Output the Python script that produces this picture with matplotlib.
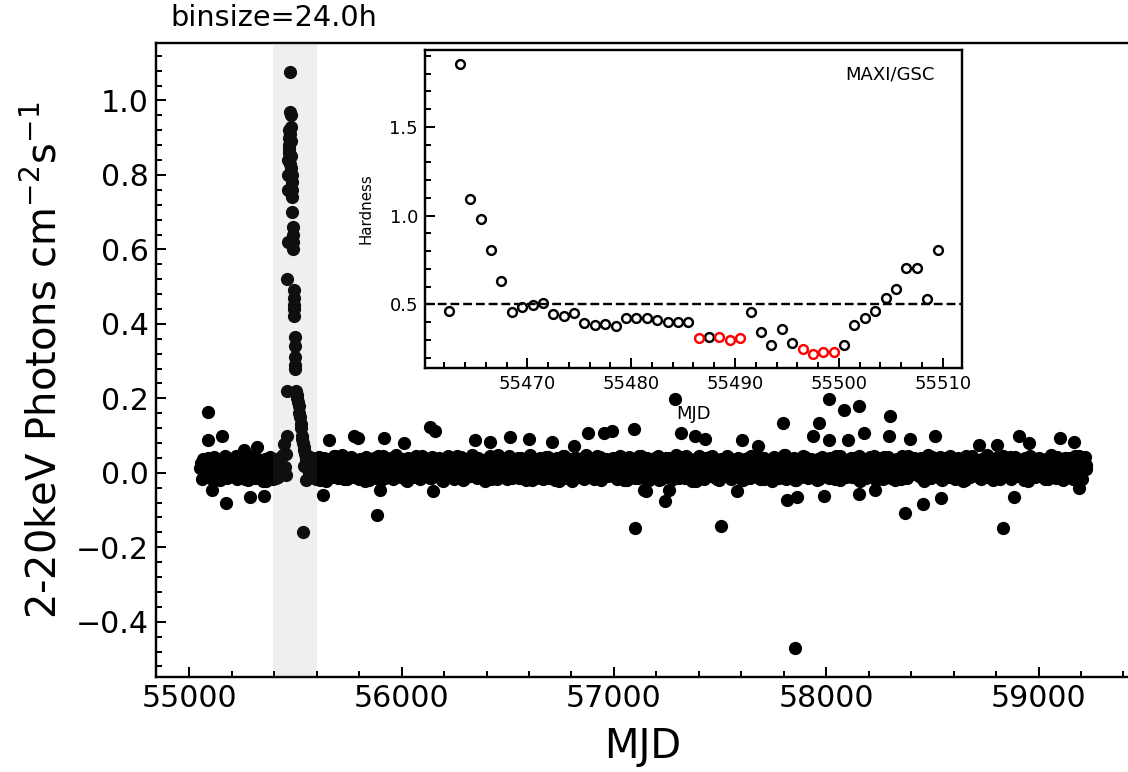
import numpy as np
import matplotlib
matplotlib.use("Agg")
import matplotlib.pyplot as plt
from matplotlib.ticker import AutoMinorLocator, MultipleLocator

plt.rcParams["font.family"] = ["DejaVu Sans"]

# ---------------- MAXI/GSC 2-20 keV daily light curve ----------------
# quiescent band: values read roughly from the dense strip, 55050 -> 59226
band_start, band_end = 55050, 59226
band_flux = np.array("""
.012 -.018 .038 .004 -.010 .030 .021 -.016 .042 .008 -.004 .034 -.020 .017 .040 .001 -.013 .027 .036 -.008
.015 .044 -.017 .006 .031 -.011 .039 .019 -.019 .002 .035 .025 -.014 .041 .010 -.006 .029 -.021 .037 .013
-.009 .043 .022 -.016 .005 .038 -.012 .028 .046 -.003 .016 -.019 .033 .009 .040 -.015 .024 .001 .036 -.010
.031 .018 -.020 .045 .007 -.008 .039 .026 -.017 .012 .042 -.005 .020 .034 -.022 .003 .037 .014 -.011 .044
.023 -.014 .030 .048 -.002 .010 -.018 .035 .017 .041 -.009 .027 .004 -.016 .038 .021 -.006 .043 .011 -.019
.033 .000 .040 -.013 .019 .026 -.020 .045 .008 .032 -.007 .014 .039 -.017 .022 .047 -.004 .029 -.012 .036
.006 -.021 .041 .024 .013 -.010 .037 .002 .030 -.018 .044 .016 -.003 .034 .020 -.015 .043 .009 .028 -.008
.039 .015 -.019 .032 .005 .046 -.012 .025 .011 -.016 .038 .022 -.001 .042 -.020 .018 .035 .003 -.009 .049
.014 .027 -.014 .040 -.005 .031 .019 -.022 .036 .007 .044 -.011 .023 .012 -.017 .039 .029 -.002 .033 .001
-.018 .045 .010 .026 -.008 .037 .016 -.015 .041 .004 .030 -.020 .021 .047 -.006 .013 .034 -.013 .024 .040
.002 -.016 .036 .019 .043 -.010 .028 .008 -.019 .039 .015 .032 -.004 .045 .011 -.014 .026 .037 -.021 .020
.041 .005 -.012 .033 .023 -.018 .048 .013 -.007 .029 .038 -.015 .017 .003 .042 -.020 .031 .010 .036 -.009
.025 -.003 .040 .012 -.017 .034 .046 -.011 .021 .006 -.019 .043 .028 .000 .037 -.014 .018 .044 -.006 .030
-.013 .022 .039 -.020 .009 .035 .017 -.008 .045 .026 -.016 .031 .004 .041 -.010 .014 .038 -.018 .027 .048
.011 -.005 .033 .042 -.015 .020 .007 .037 -.021 .029 .016 -.009 .044 .003 .024 -.017 .040 .013 -.002 .035
.046 -.012 .019 .030 -.019 .038 .001 .025 -.007 .043 .014 -.016 .034 .022 -.011 .040 .008 .028 -.020 .036
.017 .041 -.014 .006 .032 -.004 .044 .020 -.018 .027 .039 .010 -.009 .035 .015 -.021 .042 .024 .002 -.013
.031 .009 .047 -.016 .023 .036 -.006 .013 .040 -.019 .029 .018 -.010 .045 .004 .033 -.015 .021 .038 -.003
.026 -.020 .037 .012 .043 -.008 .019 .030 -.014 .041 .007 .024 -.017 .036 .011 .046 -.005 .028 -.012 .034
.003 .039 -.011 .022 .032 -.018 .044 .015 .000 .037 -.013 .027 .042 -.007 .018 .031 -.020 .040 .009 .025
-.016 .035 .016 .043 -.004 .028 .010 -.019 .038 .021 -.010 .045 .005 .030 -.015 .036 .023 -.002 .041 .012
.029 -.009 .040 .014 -.021 .033 .047 .006 -.014 .025 .037 -.006 .019 .042 -.018 .011 .034 .001 -.011 .044
.020 .036 -.017 .008 .041 -.003 .027 .015 -.020 .039 .030 -.012 .046 .013 -.007 .032 .022 -.016 .038 .004
.043 -.010 .024 .035 -.019 .017 .040 .002 -.013 .031 .045 -.005 .021 .009 .036 -.018 .028 .042 -.008 .016
.034 .011 -.015 .039 .026 -.021 .044 .007 .030 -.011 .018 .041 -.004 .033 .014 -.017 .037 .023 .049 -.009
.019 -.014 .042 .031 .003 -.019 .036 .025 -.006 .040 .012 -.016 .045 .021 .008 .038 -.012 .030 .043 .010
""".split(), float)
# second, sparser pass through the same strip (days in between)
band_flux2 = np.array("""
.026 -.007 .041 .015 -.019 .033 .005 .044 -.012 .021 .037 -.002 .028 -.016 .046 .010 -.009 .035 .019 -.021
.040 .003 -.014 .030 .047 -.005 .018 .036 -.018 .025 .011 .043 -.010 .032 .001 -.020 .039 .022 -.003 .045
.008 .034 -.017 .024 .042 -.011 .016 .029 -.022 .038 .013 -.006 .046 .020 -.015 .031 .004 .041 -.008 .027
-.019 .036 .012 .044 -.004 .023 .033 -.013 .040 .006 .019 -.021 .037 .028 -.009 .045 .014 -.016 .030 .002
.043 -.012 .025 .009 .038 -.018 .031 .047 -.001 .017 .035 -.014 .022 .041 -.007 .011 .039 -.020 .026 .034
.005 .042 -.015 .029 .018 -.022 .044 .012 -.006 .036 .024 -.011 .040 .003 .032 -.017 .046 .015 -.003 .021
.037 -.009 .020 .043 -.019 .027 .008 .035 -.013 .045 .016 -.002 .030 .039 -.020 .024 .010 .041 -.008 .033
-.014 .028 .046 .001 .019 -.021 .038 .023 -.005 .042 .013 -.016 .034 .006 .044 -.010 .027 .036 -.018 .017
.031 .045 -.007 .014 .040 -.017 .025 .004 .037 -.012 .021 .047 -.001 .029 -.020 .035 .011 .043 -.009 .022
.009 -.016 .039 .026 -.004 .033 .044 -.019 .018 .030 -.008 .041 .015 -.022 .036 .002 .024 .046 -.011 .028
.042 .007 -.013 .035 .020 -.018 .029 .045 -.003 .016 .038 -.015 .023 .010 .043 -.006 .032 -.020 .040 .013
-.010 .037 .019 -.021 .044 .004 .027 .034 -.014 .021 .047 -.007 .012 .039 -.017 .030 .008 .042 .025 -.002
.034 -.019 .022 .041 .011 -.009 .036 .018 -.016 .045 .003 .028 -.012 .040 .015 -.004 .033 .046 -.018 .020
""".split(), float)
band_mjd = np.linspace(band_start, band_end, len(band_flux))
band_mjd2 = np.linspace(band_start + 4, band_end - 4, len(band_flux2))
keep = (band_mjd < 55458) | (band_mjd > 55540)     # outburst days are in the flare list
keep2 = (band_mjd2 < 55458) | (band_mjd2 > 55540)

# 2010 outburst
flare_mjd = [55456, 55458, 55460, 55461, 55463, 55465, 55466, 55467, 55468, 55469,
             55470, 55471, 55472, 55473, 55474, 55475, 55476, 55477, 55478, 55479,
             55480, 55481, 55482, 55483, 55484, 55485, 55486, 55487, 55488, 55489,
             55490, 55491, 55492, 55493, 55494, 55495, 55496, 55497, 55498, 55499,
             55500, 55503, 55506, 55509, 55512, 55515, 55518, 55521, 55524, 55527,
             55530, 55533, 55536, 55539, 55542, 55545, 55548, 55551, 55554, 55557,
             55560, 55564, 55568]
flare_flux = [0.05, 0.10, 0.22, 0.52, 0.62, 0.76, 0.80, 0.84, 0.87, 0.90,
              0.92, 0.88, 0.86, 0.83, 0.91, 0.97, 1.077, 0.96, 0.93, 0.89,
              0.85, 0.82, 0.80, 0.78, 0.76, 0.74, 0.70, 0.66, 0.64, 0.62,
              0.60, 0.49, 0.47, 0.45, 0.44, 0.42, 0.365, 0.34, 0.31, 0.29,
              0.28, 0.22, 0.21, 0.20, 0.19, 0.18, 0.16, 0.15, 0.13, 0.12,
              0.10, 0.09, 0.08, 0.07, 0.06, 0.05, 0.04, 0.035, 0.03, 0.02,
              0.01, 0.0, -0.01]

# isolated points outside the band
out_mjd = [55086, 55086, 55154, 55107, 55173, 55284, 55353, 55444, 55256, 55319,
           55630, 55884, 55656, 55774, 55797, 55918, 56013, 55900, 56135, 56159,
           56347, 56418, 56512, 56598, 56708, 56810, 56876, 56952, 56991, 57096,
           57101, 56148, 57140, 57289, 57316, 57383, 57431, 57603, 57677, 57797,
           57964, 58011, 58082, 58153, 58180, 58011, 57938, 58105, 57242, 57258,
           57580, 57506, 57815, 57862, 57988, 58153, 57855, 57153, 58302, 58294,
           58396, 58514, 58718, 58805, 58906, 58953, 59099, 59169, 58373, 58456,
           58541, 58833, 58886, 58231, 59189, 55534]
out_flux = [0.163, 0.089, 0.100, -0.046, -0.080, -0.064, -0.061, 0.077, 0.062, 0.069,
            -0.059, -0.113, 0.089, 0.098, 0.093, 0.093, 0.081, -0.046, 0.124, 0.111,
            0.089, 0.084, 0.095, 0.091, 0.084, 0.073, 0.108, 0.108, 0.113, 0.117,
            -0.149, -0.050, -0.046, 0.199, 0.107, 0.100, 0.091, 0.089, 0.073, 0.134,
            0.134, 0.198, 0.168, 0.180, 0.108, 0.089, 0.100, 0.087, -0.077, -0.046,
            -0.048, -0.142, -0.074, -0.064, -0.062, -0.056, -0.471, -0.050, 0.153, 0.098,
            0.091, 0.100, 0.075, 0.075, 0.100, 0.080, 0.093, 0.084, -0.107, -0.083,
            -0.068, -0.147, -0.066, -0.046, -0.041, -0.160]

# hardness ratio during the outburst (inset)
hr_mjd = [55462.5, 55463.5, 55464.5, 55465.5, 55466.5, 55467.5, 55468.5, 55469.5,
          55470.5, 55471.5, 55472.5, 55473.5, 55474.5, 55475.5, 55476.5, 55477.5,
          55478.5, 55479.5, 55480.5, 55481.5, 55482.5, 55483.5, 55484.5, 55485.5,
          55487.5, 55491.5, 55492.5, 55493.5, 55494.5, 55495.5, 55500.5, 55501.5,
          55502.5, 55503.5, 55504.5, 55505.5, 55506.5, 55507.5, 55508.5, 55509.5]
hr_val = [0.464, 1.851, 1.092, 0.981, 0.808, 0.634, 0.458, 0.487,
          0.496, 0.506, 0.445, 0.436, 0.449, 0.396, 0.383, 0.391,
          0.377, 0.421, 0.421, 0.421, 0.411, 0.398, 0.398, 0.398,
          0.317, 0.458, 0.345, 0.270, 0.360, 0.285, 0.274, 0.383,
          0.421, 0.464, 0.538, 0.585, 0.704, 0.704, 0.530, 0.804]
soft_mjd = [55486.5, 55488.5, 55489.5, 55490.5, 55496.5, 55497.5, 55498.5, 55499.5]
soft_val = [0.308, 0.317, 0.302, 0.308, 0.251, 0.223, 0.232, 0.232]

# ---------------- figure ----------------
fig = plt.figure(figsize=(1128 / 144, 772 / 144), dpi=144)
ax = fig.add_axes([0.1379, 0.1231, 0.8646, 0.8212])

kw = dict(ls="none", marker="o", color="k", ms=5.6, mew=1.0)
ax.plot(band_mjd[keep], band_flux[keep], **kw)
ax.plot(band_mjd2[keep2], band_flux2[keep2], **kw)
ax.plot(flare_mjd, flare_flux, **kw)
ax.plot(out_mjd, out_flux, **kw)
ax.axvspan(55395, 55600, color="gray", alpha=0.12, lw=0, zorder=5)

ax.set_xlabel("MJD", fontsize=20, labelpad=7)
ax.set_ylabel(r"2-20keV Photons cm$^{-2}$s$^{-1}$", fontsize=20, labelpad=5)
ax.xaxis.set_minor_locator(AutoMinorLocator(5))
ax.yaxis.set_minor_locator(AutoMinorLocator(5))
ax.tick_params(which="both", direction="in", labelsize=15)
ax.tick_params(which="major", length=5, width=1)
ax.tick_params(which="minor", length=3, width=1)
for s in ax.spines.values():
    s.set_linewidth(1.2)
fig.text(170 / 1128, 1 - 26 / 772, "binsize=24.0h", fontsize=14.4, va="baseline")

# ---------------- inset: hardness ----------------
axin = fig.add_axes([0.3768, 0.5233, 0.4760, 0.4119])
axin.plot(hr_mjd, hr_val, ls="none", marker="o", mfc="none", mec="k", ms=4.4, mew=1.2)
axin.plot(soft_mjd, soft_val, ls="none", marker="o", mfc="none", mec="red", ms=4.4, mew=1.2)
axin.axhline(0.5, color="k", ls="--", lw=1.2)
axin.set_xlabel("MJD", fontsize=9, labelpad=6)
axin.set_ylabel("Hardness", fontsize=7.5, labelpad=8)
axin.text(0.95, 0.95, "MAXI/GSC", transform=axin.transAxes, ha="right", va="top", fontsize=9)
axin.xaxis.set_minor_locator(AutoMinorLocator(5))
axin.yaxis.set_major_locator(MultipleLocator(0.5))
axin.yaxis.set_minor_locator(AutoMinorLocator(5))
axin.tick_params(which="both", direction="in", labelsize=9)
axin.tick_params(which="major", length=5, width=1)
axin.tick_params(which="minor", length=3, width=1)
for s in axin.spines.values():
    s.set_linewidth(1.2)

fig.savefig("out.png", dpi=144)
